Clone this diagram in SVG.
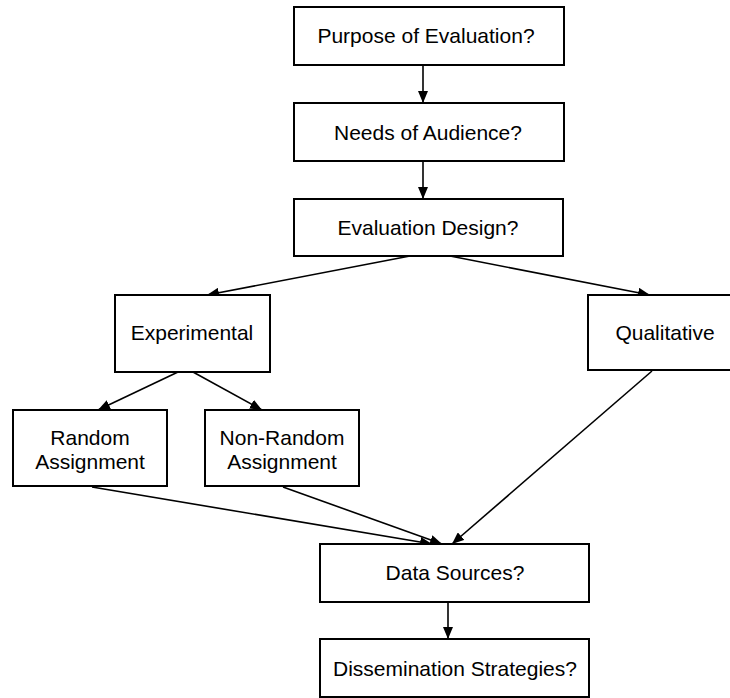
<svg xmlns="http://www.w3.org/2000/svg" width="730" height="698" viewBox="0 0 730 698">
<style>
.box{fill:#fff;stroke:#000;stroke-width:2}
.lbl{font-family:"Liberation Sans",Arial,sans-serif;font-size:21px;fill:#000;text-anchor:middle}
.conn line{stroke:#000;stroke-width:1.6;fill:none}
</style>
<defs>
<marker id="ah" viewBox="0 0 12 10" refX="12" refY="5" markerWidth="12" markerHeight="10" markerUnits="userSpaceOnUse" orient="auto">
<path d="M0,0 L12,5 L0,10 z" fill="#000"/>
</marker>
</defs>
<rect width="730" height="698" fill="#fff"/>
<g class="conn" id="connectors">
<line x1="423" y1="65" x2="423" y2="103" marker-end="url(#ah)"/>
<line x1="423" y1="161" x2="423" y2="199" marker-end="url(#ah)"/>
<line x1="410" y1="256" x2="207" y2="295" marker-end="url(#ah)"/>
<line x1="450" y1="256" x2="650" y2="295" marker-end="url(#ah)"/>
<line x1="178" y1="372" x2="98" y2="410" marker-end="url(#ah)"/>
<line x1="193" y1="372" x2="262" y2="410" marker-end="url(#ah)"/>
<line x1="92" y1="487" x2="432" y2="544" marker-end="url(#ah)"/>
<line x1="283" y1="487" x2="442" y2="544" marker-end="url(#ah)"/>
<line x1="652" y1="371" x2="452" y2="544" marker-end="url(#ah)"/>
<line x1="448" y1="602" x2="448" y2="639" marker-end="url(#ah)"/>
</g>
<g id="purpose"><rect class="box" x="294" y="7" width="270" height="58"/><text class="lbl" x="426" y="43">Purpose of Evaluation?</text></g>
<g id="needs"><rect class="box" x="294" y="103" width="270" height="58"/><text class="lbl" x="428" y="139.5">Needs of Audience?</text></g>
<g id="design"><rect class="box" x="294" y="199" width="269" height="57"/><text class="lbl" x="428" y="235">Evaluation Design?</text></g>
<g id="experimental"><rect class="box" x="115" y="295" width="155" height="77"/><text class="lbl" x="192" y="340">Experimental</text></g>
<g id="qualitative"><rect class="box" x="588" y="295" width="154" height="75"/><text class="lbl" x="665" y="340">Qualitative</text></g>
<g id="random"><rect class="box" x="13" y="410" width="154" height="76"/><text class="lbl" x="90" y="445">Random</text><text class="lbl" x="90" y="469">Assignment</text></g>
<g id="nonrandom"><rect class="box" x="205" y="410" width="154" height="76"/><text class="lbl" x="282" y="445">Non-Random</text><text class="lbl" x="282" y="469">Assignment</text></g>
<g id="datasources"><rect class="box" x="320" y="544" width="269" height="58"/><text class="lbl" x="455" y="580">Data Sources?</text></g>
<g id="dissemination"><rect class="box" x="320" y="639" width="269" height="58"/><text class="lbl" x="455" y="676">Dissemination Strategies?</text></g>
</svg>
